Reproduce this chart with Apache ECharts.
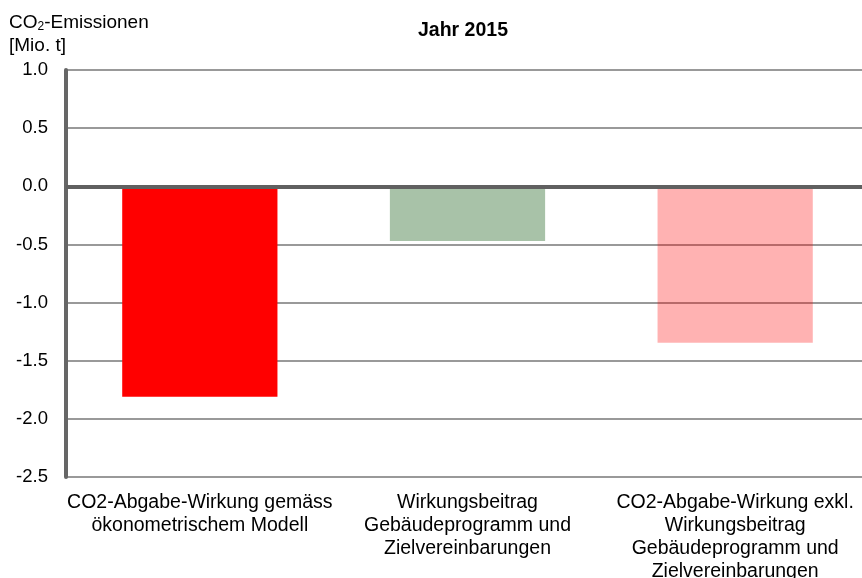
<!DOCTYPE html>
<html>
<head>
<meta charset="utf-8">
<script src="https://cdn.jsdelivr.net/npm/echarts@6/dist/echarts.min.js"></script>
<style>html,body{margin:0;padding:0;background:#fff}#c{width:862px;height:578px}</style>
</head>
<body>
<div id="c"></div>
<script>
const categories = [
  'CO2-Abgabe-Wirkung gemäss\nökonometrischem Modell',
  'Wirkungsbeitrag\nGebäudeprogramm und\nZielvereinbarungen',
  'CO2-Abgabe-Wirkung exkl.\nWirkungsbeitrag\nGebäudeprogramm und\nZielvereinbarungen'
];
const values = [-1.81, -0.47, -1.345];
const barColors = ['#FF0000', '#A8C2A8', 'rgba(255,0,0,0.3)'];
const yTicks = { min: -2.5, max: 1.0, interval: 0.5 };
const chartTitle = 'Jahr 2015';

const font = '"Liberation Sans", Arial, sans-serif';
const chart = echarts.init(document.getElementById('c'), null, { renderer: 'canvas' });
chart.setOption({
  animation: false,
  backgroundColor: '#fff',
  graphic: [
    { type: 'text', x: 463, y: 31, style: { text: chartTitle, fontFamily: font, fontSize: 19.5, fontWeight: 'bold', fill: '#000', align: 'center', verticalAlign: 'middle' } },
    { type: 'text', x: 9, y: 11, style: {
      text: '{a|CO}{s|2}{a|-Emissionen}\n{a|[Mio. t]}',
      rich: {
        a: { fontFamily: font, fontSize: 19, fontWeight: 'normal', fill: '#000', lineHeight: 23 },
        s: { fontFamily: font, fontSize: 12, fontWeight: 'normal', fill: '#000', lineHeight: 23, padding: [9, 0, 0, 0] }
      } } }
  ],
  grid: { left: 66, right: -7, top: 70, bottom: 101, containLabel: false, outerBoundsMode: 'none' },
  xAxis: {
    type: 'category', data: categories,
    axisLine: { show: false }, axisTick: { show: false },
    axisLabel: { interval: 0, margin: 14, fontFamily: font, fontSize: 19.5, color: '#000', lineHeight: 23, align: 'center', verticalAlign: 'top', hideOverlap: false }
  },
  yAxis: {
    type: 'value', min: yTicks.min, max: yTicks.max, interval: yTicks.interval,
    axisLine: { show: true, lineStyle: { color: '#666', width: 4 } },
    axisTick: { show: false },
    splitLine: { show: true, lineStyle: { color: '#999', width: 2 } },
    axisLabel: { margin: 18, fontFamily: font, fontSize: 18.5, color: '#000', formatter: v => v.toFixed(1) }
  },
  series: [{
    type: 'bar', barWidth: '58%',
    data: values.map((v, i) => ({ value: v, itemStyle: { color: barColors[i] } })),
    markLine: {
      silent: true, symbol: 'none', label: { show: false },
      lineStyle: { color: '#606060', width: 4, type: 'solid' },
      data: [{ yAxis: 0 }]
    }
  }]
});
</script>
</body>
</html>
